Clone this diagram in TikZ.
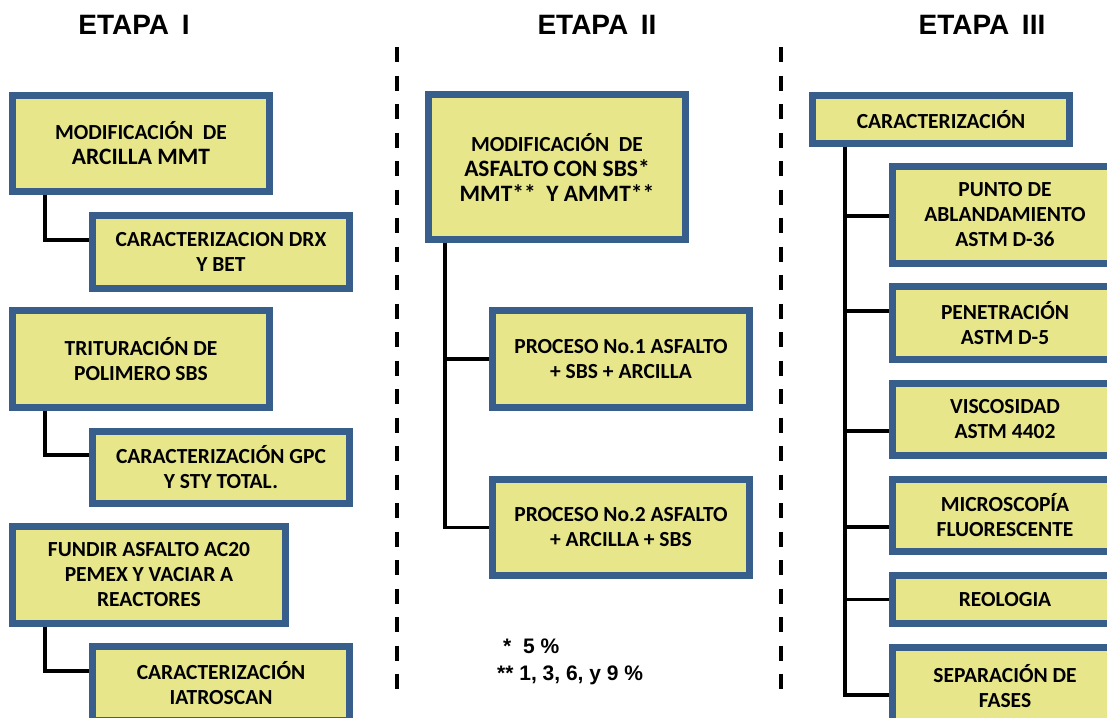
\documentclass[tikz,border=0pt]{standalone}
\usepackage{fontspec}
\newfontfamily\boxfont{Carlito}
\newfontfamily\headfont{Liberation Sans}
\usetikzlibrary{calc,backgrounds}
\definecolor{boxfill}{RGB}{232,230,139}
\definecolor{boxline}{RGB}{56,94,140}
\newcommand{\bigln}[1]{{\fontsize{23.5}{27}\selectfont #1}}
\begin{document}
\begin{tikzpicture}[x=1pt,y=-1pt,
 box/.style={draw=boxline, fill=boxfill, line width=7pt, align=center, inner sep=0pt,
   font=\boxfont\bfseries\fontsize{21.5}{25}\selectfont, text=black},
 conn/.style={line width=3.5pt, black},
 head/.style={font=\headfont\bfseries\fontsize{28}{32}\selectfont, anchor=base, inner sep=0pt},
 foot/.style={font=\headfont\bfseries\fontsize{21}{24}\selectfont, anchor=base west, inner sep=0pt},
 sepline/.style={line width=3.5pt, dash pattern=on 15pt off 13.5pt}]
\useasboundingbox (0,0) rectangle (1107,717);
\clip (0,0) rectangle (1107,717);

% headings
\node[head] (h1) at (134,35) {ETAPA\hspace{0.45em}I};
\node[head] (h2) at (597,35) {ETAPA\hspace{0.45em}II};
\node[head] (h3) at (982,35) {ETAPA\hspace{0.45em}III};

% separators
\coordinate (s1a) at (397,47); \coordinate (s1b) at (397,693);
\coordinate (s2a) at (781,47); \coordinate (s2b) at (781,693);
\draw[sepline] (s1a) -- (s1b);
\draw[sepline] (s2a) -- (s2b);

% stage I
\node[box, minimum width=257pt, minimum height=96pt] (b1) at (141,143.5)
  {MODIFICACIÓN\ \ DE\\\bigln{ARCILLA MMT}};
\node[box, minimum width=257pt, minimum height=73pt] (b2) at (221,252)
  {CARACTERIZACION DRX\\Y BET};
\node[box, minimum width=257pt, minimum height=97pt] (b3) at (141,359)
  {TRITURACIÓN DE\\POLIMERO SBS};
\node[box, minimum width=257pt, minimum height=72pt] (b4) at (221,467.5)
  {CARACTERIZACIÓN GPC\\Y STY TOTAL.};
\node[box, minimum width=273pt, minimum height=97pt] (b5) at (149,575)
  {FUNDIR ASFALTO AC20\\PEMEX Y VACIAR A\\REACTORES};
\node[box, minimum width=257pt, minimum height=74pt] (b6) at (221,683.5)
  {CARACTERIZACIÓN\\IATROSCAN};

% stage II
\node[box, minimum width=257pt, minimum height=145pt] (m1) at (557,167)
  {MODIFICACIÓN\ \ DE\\\bigln{ASFALTO CON SBS*}\\\bigln{MMT**\ \ Y AMMT**}};
\node[box, minimum width=257pt, minimum height=97pt] (m2) at (621,359)
  {PROCESO No.1 ASFALTO\\+ SBS + ARCILLA};
\node[box, minimum width=257pt, minimum height=96pt] (m3) at (621,527.5)
  {PROCESO No.2 ASFALTO\\+ ARCILLA + SBS};
\node[foot] (f1) at (503,653) {*\ \ 5 \%};
\node[foot] (f2) at (497,680) {** 1, 3, 6, y 9 \%};

% stage III
\node[box, minimum width=257pt, minimum height=48pt] (r0) at (941,119.5)
  {CARACTERIZACIÓN};
\node[box, minimum width=225pt, minimum height=97pt] (r1) at (1005,215)
  {PUNTO DE\\ABLANDAMIENTO\\ASTM D-36};
\node[box, minimum width=225pt, minimum height=73pt] (r2) at (1005,323)
  {PENETRACIÓN\\ASTM D-5};
\node[box, minimum width=225pt, minimum height=72pt] (r3) at (1005,419.5)
  {VISCOSIDAD\\ASTM 4402};
\node[box, minimum width=225pt, minimum height=72pt] (r4) at (1005,515.5)
  {MICROSCOPÍA\\FLUORESCENTE};
\node[box, minimum width=225pt, minimum height=48pt] (r5) at (1005,599.5)
  {REOLOGIA};
\node[box, minimum width=225pt, minimum height=77pt] (r6) at (1005,686)
  {SEPARACIÓN DE\\FASES};

% connector anchor points
\coordinate (tL) at (45,0);
\coordinate (tM) at (445,0);
\coordinate (tR) at (845,0);
\coordinate (b2c) at ($(b2.west)+(0,-12)$);
\coordinate (b4c) at ($(b4.west)+(0,-12.5)$);
\coordinate (b6c) at ($(b6.west)+(0,-12.5)$);
\coordinate (r1c) at ($(r1.west)+(0,1)$);
\coordinate (r2c) at ($(r2.west)+(0,-12)$);
\coordinate (r3c) at ($(r3.west)+(0,11.5)$);
\coordinate (r4c) at ($(r4.west)+(0,11.5)$);
\coordinate (r6c) at ($(r6.west)+(0,9)$);

\begin{scope}[on background layer]
\draw[conn] (b1.south -| tL) |- (b2c);
\draw[conn] (b3.south -| tL) |- (b4c);
\draw[conn] (b5.south -| tL) |- (b6c);
\draw[conn] (m1.south -| tM) |- (m3.west);
\draw[conn] (m2.west -| tM) -- (m2.west);
\draw[conn] (r0.south -| tR) |- (r6c);
\draw[conn] (r1c -| tR) -- (r1c);
\draw[conn] (r2c -| tR) -- (r2c);
\draw[conn] (r3c -| tR) -- (r3c);
\draw[conn] (r4c -| tR) -- (r4c);
\draw[conn] (r5.west -| tR) -- (r5.west);
\end{scope}
\end{tikzpicture}
\end{document}
